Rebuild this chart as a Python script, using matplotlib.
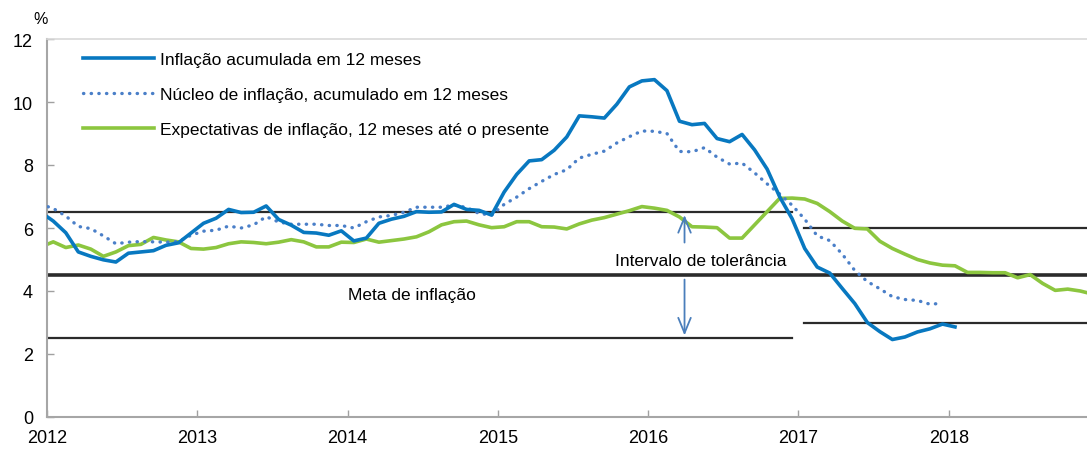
import numpy as np
import matplotlib
matplotlib.use("Agg")
from matplotlib import pyplot as plt

plt.rcParams['font.family'] = ['Liberation Sans', 'DejaVu Sans']

# monthly data, first value = Dec 2011
start_year = 2011
start_month = 12

ipca = [6.50,
        6.22, 5.85, 5.24, 5.10, 4.99, 4.92, 5.20, 5.24, 5.28, 5.45, 5.53, 5.84,
        6.15, 6.31, 6.59, 6.49, 6.50, 6.70, 6.27, 6.09, 5.86, 5.84, 5.77, 5.91,
        5.59, 5.68, 6.15, 6.28, 6.37, 6.52, 6.50, 6.51, 6.75, 6.59, 6.56, 6.41,
        7.14, 7.70, 8.13, 8.17, 8.47, 8.89, 9.56, 9.53, 9.49, 9.93, 10.48, 10.67,
        10.71, 10.36, 9.39, 9.28, 9.32, 8.84, 8.74, 8.97, 8.48, 7.87, 6.99, 6.29,
        5.35, 4.76, 4.57, 4.08, 3.60, 3.00, 2.71, 2.46, 2.54, 2.70, 2.80, 2.95,
        2.86]

nucleo = [6.75,
          6.62, 6.38, 6.05, 5.98, 5.75, 5.50, 5.55, 5.57, 5.56, 5.55, 5.57, 5.77,
          5.90, 5.93, 6.06, 6.00, 6.10, 6.36, 6.19, 6.12, 6.12, 6.12, 6.08, 6.08,
          6.00, 6.20, 6.35, 6.40, 6.50, 6.66, 6.66, 6.66, 6.73, 6.65, 6.46, 6.41,
          6.75, 6.98, 7.25, 7.48, 7.70, 7.85, 8.22, 8.34, 8.44, 8.70, 8.90, 9.08,
          9.07, 9.00, 8.43, 8.42, 8.55, 8.25, 8.03, 8.06, 7.75, 7.40, 7.08, 6.72,
          6.28, 5.75, 5.60, 5.17, 4.65, 4.30, 4.07, 3.82, 3.73, 3.70, 3.58, 3.61]

expectativas = [5.40,
                5.56, 5.38, 5.46, 5.33, 5.10, 5.24, 5.44, 5.48, 5.70, 5.62, 5.56, 5.35,
                5.33, 5.38, 5.50, 5.56, 5.54, 5.50, 5.55, 5.63, 5.56, 5.40, 5.40, 5.55,
                5.54, 5.65, 5.55, 5.60, 5.65, 5.72, 5.88, 6.10, 6.20, 6.22, 6.10, 6.01,
                6.04, 6.20, 6.20, 6.04, 6.03, 5.97, 6.13, 6.25, 6.33, 6.44, 6.55, 6.68,
                6.63, 6.56, 6.35, 6.04, 6.03, 6.01, 5.68, 5.68, 6.10, 6.52, 6.94, 6.95,
                6.92, 6.78, 6.52, 6.22, 5.99, 5.97, 5.58, 5.35, 5.17, 5.00, 4.89, 4.82,
                4.80, 4.59, 4.59, 4.58, 4.58, 4.42, 4.52, 4.24, 4.02, 4.06, 4.00, 3.90]

labels = ['Inflação acumulada em 12 meses',
          'Núcleo de inflação, acumulado em 12 meses',
          'Expectativas de inflação, 12 meses até o presente']

years = [2012, 2013, 2014, 2015, 2016, 2017, 2018]

# target and tolerance band: (value, start, end)
meta = 4.5
banda = [(6.5, 2012.0, 2016.96), (2.5, 2012.0, 2016.96),
         (6.0, 2017.04, 2019.0), (3.0, 2017.04, 2019.0)]


def months(n):
    # mid-month positions in decimal years
    return start_year + (start_month - 1) / 12 + 1 / 24 + np.arange(n) / 12


fig = plt.figure(figsize=(10.87, 4.52), dpi=100)
ax = fig.add_axes([47 / 1087, 1 - 418 / 452, 1 - 47 / 1087, 378 / 452])

blue = '#0878c0'
dot_blue = '#4a7fc8'
green = '#8cc63f'
band_c = '#2b2b2b'

for val, x0, x1 in banda:
    ax.plot([x0, x1], [val, val], color=band_c, lw=1.6, zorder=1)
ax.axhline(meta, color=band_c, lw=2.6, zorder=1)

ax.plot(months(len(ipca)), ipca, color=blue, lw=2.6, label=labels[0], zorder=4)
ax.plot(months(len(nucleo)), nucleo, color=dot_blue, lw=2.4,
        linestyle=(0, (0.1, 2.2)), dash_capstyle='round', label=labels[1], zorder=3)
ax.plot(months(len(expectativas)), expectativas, color=green, lw=2.6,
        label=labels[2], zorder=2)

# tolerance arrows
arr_x = 2016.242
arr_kw = dict(arrowstyle='->,head_length=1.1,head_width=0.45', color='#4a7ebb', lw=1.3)
ax.annotate('', xy=(arr_x, 6.5), xytext=(arr_x, 5.45), arrowprops=arr_kw)
ax.annotate('', xy=(arr_x, 2.5), xytext=(arr_x, 4.45), arrowprops=arr_kw)

ax.text(2016.35, 4.97, 'Intervalo de tolerância', fontsize=12.5, ha='center', va='center')
ax.text(2014.0, 3.88, 'Meta de inflação', fontsize=12.5, ha='left', va='center')

ax.set_xlim(2012, 2018.92)
ax.set_ylim(0, 12)
ax.set_xticks(years)
ax.set_xticklabels([str(y) for y in years])
ax.set_yticks(range(0, 13, 2))
ax.tick_params(direction='in', length=5, width=1, color='#a0a0a0', labelsize=13, pad=9)
ax.tick_params(axis='y', pad=10)

for s in ['left', 'bottom']:
    ax.spines[s].set_color('#a6a6a6')
    ax.spines[s].set_linewidth(1.5)
ax.spines['top'].set_color('#d9d9d9')
ax.spines['top'].set_linewidth(1.2)
ax.spines['right'].set_visible(False)

fig.text(33 / 1087, 1 - 20 / 452, '%', fontsize=11.5, ha='left', va='center')

ax.legend(loc='upper left', bbox_to_anchor=(0.022, 1.0), frameon=False, fontsize=12.5,
          handlelength=4.1, labelspacing=1.15, handletextpad=0.35, borderaxespad=0.35)

fig.savefig('out.png', dpi=100)
